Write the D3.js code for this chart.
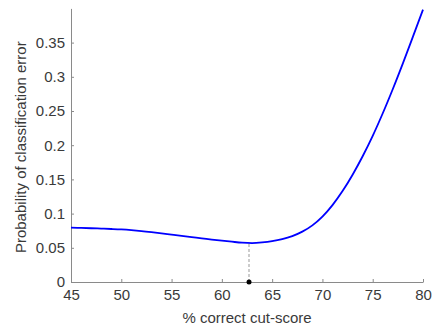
<!DOCTYPE html>
<html><head><meta charset="utf-8">
<script src="https://cdn.jsdelivr.net/npm/d3@7"></script>
<style>body{margin:0;background:#fff;} svg{display:block;}</style>
</head><body>
<svg id="chart" width="435" height="333"></svg>
<script>
const cutScores = [45,46,47,48,49,50,51,52,53,54,55,56,57,58,59,60,61,62,63,64,65,66,67,68,69,70,71,72,73,74,75,76,77,78,79,80];
const errorProb = [0.0795,0.0791,0.0786,0.0781,0.0775,0.0768,0.0758,0.0745,0.0729,0.0711,0.0692,0.0673,0.0655,0.0638,0.0620,0.0604,0.0589,0.0575,0.0569,0.0578,0.0596,0.0626,0.0671,0.0736,0.0828,0.0956,0.1124,0.1329,0.1569,0.1839,0.2137,0.2467,0.2822,0.3197,0.3587,0.3982];
const optimalCut = 62.7;
const optimalError = 0.0568;
const xTicks = [45,50,55,60,65,70,75,80];
const yTicks = [0,0.05,0.1,0.15,0.2,0.25,0.3,0.35];
const xLabel = "% correct cut-score";
const yLabel = "Probability of classification error";

const svg = d3.select("#chart");
const m = {left:71, right:12, top:8.4, bottom:51};
const W = 435, H = 333;
const x = d3.scaleLinear().domain([45,80]).range([m.left, W - m.right]);
const y = d3.scaleLinear().domain([0,0.4]).range([H - m.bottom, m.top]);
const font = "'Liberation Sans', Arial, Helvetica, sans-serif";
const axisCol = "#8a8a8a", textCol = "#3a3a3a";

const xAxis = svg.append("g").attr("transform",`translate(0,${y(0)})`)
  .call(d3.axisBottom(x).tickValues(xTicks).tickSizeInner(-3).tickSizeOuter(0).tickPadding(7).tickFormat(d3.format("d")));
const yAxis = svg.append("g").attr("transform",`translate(${x(45)},0)`)
  .call(d3.axisLeft(y).tickValues(yTicks).tickSizeInner(-3).tickSizeOuter(0).tickPadding(6).tickFormat(d => d === 0 ? "0" : String(+d.toFixed(2))));
[xAxis, yAxis].forEach(g => {
  g.select(".domain").attr("stroke", axisCol).attr("stroke-width", 1);
  g.selectAll(".tick line").attr("stroke", axisCol);
  g.selectAll(".tick text").attr("fill", textCol).style("font-family", font).style("font-size", "15px");
});

svg.append("text").attr("x", (x(45)+x(80))/2).attr("y", 323)
  .attr("text-anchor","middle").attr("fill", textCol)
  .style("font-family", font).style("font-size","15px").text(xLabel);
svg.append("text").attr("transform", `translate(26,${(y(0)+y(0.4))/2 + 2}) rotate(-90)`)
  .attr("text-anchor","middle").attr("fill", textCol)
  .style("font-family", font).style("font-size","15px").text(yLabel);

svg.append("line")
  .attr("x1", x(optimalCut)).attr("x2", x(optimalCut))
  .attr("y1", y(0)).attr("y2", y(optimalError))
  .attr("stroke", "#999").attr("stroke-width", 1).attr("stroke-dasharray", "3,2");

const line = d3.line().x((d,i) => x(cutScores[i])).y(d => y(d)).curve(d3.curveMonotoneX);
svg.append("path").datum(errorProb).attr("d", line)
  .attr("fill","none").attr("stroke","#0000ff").attr("stroke-width",1.8);

svg.append("circle").attr("cx", x(optimalCut)).attr("cy", y(0)).attr("r", 2.5).attr("fill","#000");
</script>
</body></html>
